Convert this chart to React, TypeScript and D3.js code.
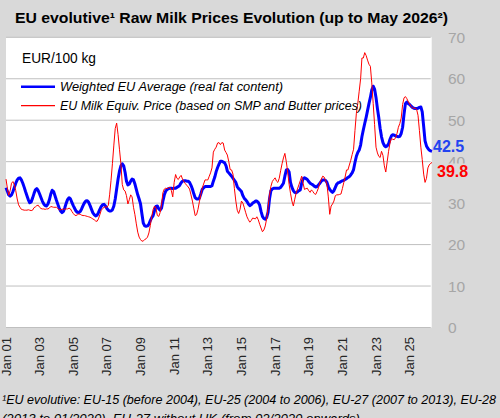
import React from "react";
import * as d3 from "d3";

// Monthly values, Jan 2001 .. May 2026 (EUR/100 kg)
const weightedAvg: number[] = [
  33.7, 32.8, 32.0, 31.7, 32.0, 32.8, 33.8, 34.8, 35.6, 36.0, 36.1, 35.6, // 2001
  34.8, 33.8, 32.8, 31.8, 30.8, 30.1, 30.3, 31.2, 32.3, 33.2, 33.5, 33.0, // 2002
  32.2, 31.3, 30.5, 29.8, 29.4, 29.3, 29.8, 30.8, 32.2, 33.1, 32.8, 31.8, // 2003
  30.7, 29.7, 28.8, 28.1, 27.7, 28.0, 28.9, 30.0, 30.9, 31.3, 31.0, 30.2, // 2004
  29.4, 28.7, 28.1, 27.8, 27.7, 28.0, 28.6, 29.4, 30.1, 30.5, 30.6, 30.2, // 2005
  29.4, 28.5, 27.7, 27.2, 26.9, 27.1, 27.7, 28.5, 29.2, 29.6, 29.7, 29.3, // 2006
  28.7, 28.3, 28.1, 28.1, 28.4, 29.3, 31.0, 33.4, 35.8, 37.7, 39.0, 39.5, // 2007
  39.0, 37.4, 35.3, 34.4, 34.6, 35.3, 35.8, 35.6, 34.6, 33.3, 32.0, 31.0, // 2008
  29.8, 27.3, 25.2, 24.5, 24.4, 24.5, 24.9, 25.8, 26.5, 27.0, 28.2, 29.2, // 2009
  29.3, 28.6, 28.3, 28.8, 30.5, 32.0, 32.9, 33.3, 33.5, 33.6, 33.6, 33.5, // 2010
  33.6, 33.6, 33.8, 34.0, 34.3, 34.9, 35.3, 35.4, 35.4, 35.3, 35.3, 35.0, // 2011
  34.3, 33.4, 32.3, 31.3, 31.0, 31.0, 31.2, 32.2, 33.3, 33.7, 34.0, 34.0, // 2012
  34.0, 34.0, 34.0, 34.2, 35.3, 36.3, 37.6, 38.6, 39.4, 40.1, 40.1, 39.9, // 2013
  39.7, 39.0, 37.7, 37.3, 36.9, 36.5, 36.0, 35.5, 35.0, 34.0, 33.5, 33.2, // 2014
  32.8, 31.8, 31.2, 30.8, 30.4, 29.8, 29.4, 29.6, 30.0, 30.2, 30.5, 30.5, // 2015
  30.2, 29.5, 28.0, 26.8, 26.3, 26.1, 26.5, 27.8, 31.0, 33.0, 33.4, 33.6, // 2016
  33.6, 33.6, 33.6, 33.6, 33.8, 34.3, 34.8, 36.5, 38.0, 38.1, 37.5, 35.0, // 2017
  33.8, 33.0, 32.6, 32.5, 32.7, 33.0, 33.2, 34.8, 35.9, 36.1, 35.9, 35.7, // 2018
  35.2, 34.8, 34.6, 34.4, 34.1, 33.9, 34.0, 34.4, 34.8, 35.3, 35.6, 35.6, // 2019
  35.5, 35.0, 34.0, 33.3, 32.9, 32.6, 33.0, 33.8, 34.6, 34.9, 35.0, 35.2, // 2020
  35.4, 35.5, 35.7, 35.9, 36.2, 36.4, 36.8, 37.3, 38.1, 39.8, 41.3, 42.2, // 2021
  42.8, 44.0, 46.0, 47.7, 49.2, 50.7, 52.3, 54.0, 55.5, 57.3, 58.2, 57.5, // 2022
  55.5, 52.8, 50.7, 48.0, 46.0, 44.6, 43.9, 43.6, 43.8, 44.3, 45.4, 46.2, // 2023
  46.5, 46.4, 46.2, 46.1, 46.0, 46.1, 46.8, 48.3, 51.5, 54.0, 54.4, 54.0, // 2024
  53.8, 53.4, 53.1, 52.9, 52.8, 52.8, 52.9, 53.1, 53.2, 52.0, 48.5, 45.0, // 2025
  43.8, 43.2, 42.8, 42.6, 42.5, // 2026
];

const milkEquiv: number[] = [
  35.8, 33.5, 31.9, 33.0, 34.8, 35.2, 34.4, 33.0, 31.0, 29.6, 29.0, 28.5, // 2001
  28.4, 28.3, 28.3, 28.3, 28.4, 28.3, 28.2, 28.3, 28.9, 29.1, 29.4, 29.5, // 2002
  29.0, 28.7, 28.6, 28.6, 28.5, 28.6, 28.6, 28.8, 29.2, 29.1, 29.0, 29.0, // 2003
  29.0, 28.7, 28.4, 28.4, 28.5, 28.6, 28.5, 28.6, 28.6, 28.8, 28.6, 28.0, // 2004
  27.5, 27.1, 27.0, 27.2, 27.4, 27.3, 27.1, 27.0, 27.0, 26.9, 26.8, 26.7, // 2005
  26.6, 26.4, 26.2, 26.0, 25.7, 25.6, 26.2, 27.2, 28.3, 28.7, 29.0, 29.1, // 2006
  29.0, 29.5, 32.0, 35.5, 39.5, 44.0, 48.0, 49.3, 46.5, 43.0, 39.5, 34.5, // 2007
  33.2, 32.9, 31.8, 29.8, 30.8, 32.0, 31.5, 29.0, 27.2, 25.0, 23.0, 21.8, // 2008
  21.2, 20.8, 20.9, 21.2, 21.4, 21.8, 22.8, 24.6, 26.8, 28.5, 29.3, 28.8, // 2009
  27.0, 26.8, 27.7, 29.6, 32.5, 33.4, 33.6, 33.5, 33.7, 33.8, 33.0, 31.5, // 2010
  35.0, 36.9, 36.0, 35.7, 36.3, 36.7, 35.8, 35.2, 34.7, 34.3, 33.9, 33.4, // 2011
  32.0, 30.5, 28.8, 27.0, 27.2, 28.5, 30.3, 32.0, 33.6, 34.6, 35.6, 35.6, // 2012
  35.6, 36.5, 37.3, 38.5, 42.3, 43.0, 43.5, 44.5, 44.6, 44.1, 44.6, 44.5, // 2013
  42.8, 42.2, 41.6, 40.0, 38.1, 38.0, 37.0, 33.5, 30.5, 28.3, 27.5, 28.5, // 2014
  30.5, 30.0, 29.0, 27.8, 26.7, 26.0, 25.4, 25.8, 26.4, 26.3, 26.2, 26.7, // 2015
  26.0, 24.9, 24.0, 23.1, 23.5, 24.5, 26.2, 29.0, 32.0, 34.0, 35.2, 35.7, // 2016
  36.1, 35.3, 35.0, 36.0, 37.8, 39.5, 40.9, 42.0, 40.0, 37.5, 34.5, 32.4, // 2017
  30.5, 29.3, 30.8, 32.4, 33.4, 34.4, 35.4, 36.5, 34.8, 33.3, 33.5, 33.6, // 2018
  33.0, 32.6, 33.2, 32.8, 32.3, 32.1, 32.8, 33.7, 35.0, 35.8, 36.5, 36.3, // 2019
  35.5, 34.5, 31.5, 27.3, 29.3, 29.8, 30.5, 31.8, 32.0, 32.0, 32.1, 32.2, // 2020
  33.5, 35.0, 36.3, 38.0, 38.0, 39.2, 40.3, 41.7, 43.0, 47.5, 51.7, 54.0, // 2021
  57.0, 60.0, 65.0, 65.0, 66.3, 65.6, 64.5, 63.5, 63.0, 59.0, 54.0, 49.0, // 2022
  43.5, 42.1, 41.3, 41.0, 42.5, 41.5, 39.0, 37.5, 40.0, 42.5, 44.5, 45.6, // 2023
  45.4, 45.3, 45.8, 46.8, 48.3, 49.2, 50.5, 53.8, 55.4, 55.7, 55.2, 54.5, // 2024
  53.9, 53.3, 53.0, 52.9, 52.9, 52.6, 51.2, 47.5, 43.5, 40.5, 37.0, 35.0, // 2025
  36.0, 38.5, 39.2, 39.6, 39.8, // 2026
];

const yTicks = [0, 10, 20, 30, 40, 50, 60, 70];
const xTickYears = [2001, 2003, 2005, 2007, 2009, 2011, 2013, 2015, 2017, 2019, 2021, 2023, 2025];
const xTickLabels = ["Jan 01", "Jan 03", "Jan 05", "Jan 07", "Jan 09", "Jan 11", "Jan 13", "Jan 15", "Jan 17", "Jan 19", "Jan 21", "Jan 23", "Jan 25"];
const seriesNames = ["Weighted EU Average (real fat content)", "EU Milk Equiv. Price (based on SMP and Butter prices)"];
const lastLabels = ["42.5", "39.8"];

const title = "EU evolutive\u00B9 Raw Milk Prices Evolution  (up to May 2026\u00B2)";
const unitLabel = "EUR/100 kg";
const footnote1 = "\u00B9EU evolutive: EU-15 (before 2004), EU-25 (2004 to 2006), EU-27 (2007 to 2013), EU-28";
const footnote2 = "(2013 to 01/2020), EU-27 without UK (from 02/2020 onwards)";

const FONT = "'Liberation Sans', Arial, sans-serif";

export default function App() {
  const W = 500;
  const H = 418;
  const plotL = 6, plotR = 431.7, plotT = 37.3, plotB = 327.5;
  const bg = "#d9d9d9";

  const x = d3.scaleTime()
    .domain([new Date(2001, 0, 1), new Date(2026, 4, 1)])
    .range([6, 432]);
  const y = d3.scaleLinear().domain([0, 70]).range([plotB, plotT]);
  const dateOf = (i: number) => new Date(2001, i, 1);

  const line = d3.line<number>()
    .x((_, i) => x(dateOf(i)))
    .y((d) => y(d));

  const blue = "#0000ff";
  const red = "#ff0000";

  return (
    <svg width={W} height={H} style={{ position: "absolute", left: 0, top: 0 }} fontFamily={FONT}>
      <rect x={0} y={0} width={W} height={H} fill={bg} />
      <rect x={plotL} y={plotT} width={plotR - plotL} height={plotB - plotT} fill="#ffffff" />

      {/* gridlines */}
      {yTicks.map((t) => (
        <line key={"g" + t} x1={plotL} x2={plotR - 1} y1={y(t)} y2={y(t)} stroke="#bfbfbf" strokeWidth={1} />
      ))}

      {/* y tick labels (right) */}
      {yTicks.map((t) => (
        <text key={"yl" + t} x={448} y={y(t)} dy="0.36em" fontSize={15.5} fill="#a6a6a6">
          {t}
        </text>
      ))}

      {/* x tick labels */}
      {xTickYears.map((yr, i) => (
        <text
          key={"xl" + yr}
          transform={`translate(${x(new Date(yr, 0, 1))},337) rotate(-90)`}
          textAnchor="end"
          dy="0.35em"
          fontSize={13}
          fill="#262626"
        >
          {xTickLabels[i]}
        </text>
      ))}

      {/* series */}
      <path d={line(weightedAvg) || ""} fill="none" stroke={blue} strokeWidth={3} strokeLinejoin="round" />
      <path d={line(milkEquiv) || ""} fill="none" stroke={red} strokeWidth={1} strokeLinejoin="round" />

      {/* end labels */}
      <text x={433} y={146} dy="0.36em" fontSize={16} fontWeight="bold" fill="#2343f0">{lastLabels[0]}</text>
      <rect x={435} y={163.5} width={36} height={16} fill={bg} />
      <text x={437} y={171.5} dy="0.36em" fontSize={16} fontWeight="bold" fill="#ff0000">{lastLabels[1]}</text>

      {/* title */}
      <text x={15} y={23.3} fontSize={14} fontWeight="bold" fill="#000" textLength={433} lengthAdjust="spacingAndGlyphs">
        {title}
      </text>

      {/* unit + legend */}
      <text x={22} y={63} fontSize={14} fill="#000" textLength={74} lengthAdjust="spacingAndGlyphs">{unitLabel}</text>
      <line x1={21} x2={55} y1={86.7} y2={86.7} stroke={blue} strokeWidth={2.5} />
      <text x={60} y={86.7} dy="0.35em" fontSize={13} fontStyle="italic" fill="#000" textLength={223} lengthAdjust="spacingAndGlyphs">
        {seriesNames[0]}
      </text>
      <line x1={21} x2={55} y1={105.7} y2={105.7} stroke={red} strokeWidth={1.2} />
      <text x={60} y={105.7} dy="0.35em" fontSize={13} fontStyle="italic" fill="#000" textLength={302} lengthAdjust="spacingAndGlyphs">
        {seriesNames[1]}
      </text>

      {/* footnotes */}
      <text x={2} y={404} fontSize={13} fontStyle="italic" fill="#000" textLength={494} lengthAdjust="spacingAndGlyphs">
        {footnote1}
      </text>
      <text x={2} y={422.5} fontSize={13} fontStyle="italic" fill="#000" textLength={358} lengthAdjust="spacingAndGlyphs">
        {footnote2}
      </text>
    </svg>
  );
}
